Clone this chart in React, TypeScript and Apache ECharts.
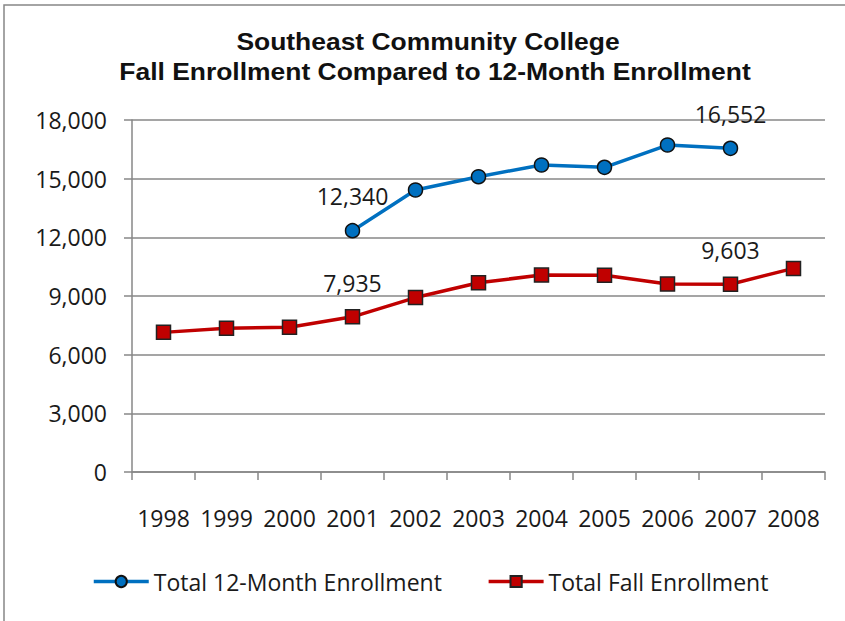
import React, { useEffect, useRef } from "react";
import * as echarts from "echarts";

const years = ["1998", "1999", "2000", "2001", "2002", "2003", "2004", "2005", "2006", "2007", "2008"];
const twelveMonth = [null, null, null, 12340, 14420, 15100, 15700, 15580, 16720, 16552, null];
const fall = [7140, 7350, 7400, 7935, 8920, 9680, 10070, 10060, 9610, 9603, 10410];
const twelveMonthLabelled = ["2001", "2007"];
const fallLabelled = ["2001", "2007"];
const titleLines = ["Southeast Community College", "Fall Enrollment Compared to 12-Month Enrollment"];
const seriesNames = ["Total 12-Month Enrollment", "Total Fall Enrollment"];

const GRAY = "#878787";
const TEXT = "#1a1a1a";
const FONT = "'Open Sans', sans-serif";

const fmt = (v: number) => v.toLocaleString("en-US");

export default function App() {
  const ref = useRef<HTMLDivElement>(null);
  useEffect(() => {
    document.body.style.margin = "0";
    const chart = echarts.init(ref.current!, null, { renderer: "svg" });
    const mkData = (vals: (number | null)[], labelled: string[]) =>
      vals.map((v, i) =>
        labelled.includes(years[i]) && v != null
          ? { value: v, label: { show: true } }
          : v
      );
    const labelCfg = {
      show: false,
      position: "top",
      distance: 15,
      fontFamily: FONT,
      fontSize: 23,
      color: TEXT,
      formatter: (p: any) => fmt(p.value),
    };
    const titleFont = "bold 23px 'Liberation Sans', Arial, sans-serif";
    chart.setOption({
      animation: false,
      backgroundColor: "#ffffff",
      graphic: [
        {
          type: "polyline",
          shape: { points: [[4, 621], [4, 5], [845, 5]] },
          style: { stroke: GRAY, lineWidth: 1.5, fill: "none" },
          silent: true,
        },
        {
          type: "text",
          x: 428,
          y: 42,
          scaleX: 1.15,
          style: {
            text: titleLines[0],
            font: titleFont,
            fill: "#111",
            textAlign: "center",
            textVerticalAlign: "middle",
            align: "center",
            verticalAlign: "middle",
          },
        },
        {
          type: "text",
          x: 435,
          y: 72,
          scaleX: 1.15,
          style: {
            text: titleLines[1],
            font: titleFont,
            fill: "#111",
            textAlign: "center",
            textVerticalAlign: "middle",
            align: "center",
            verticalAlign: "middle",
          },
        },
      ],
      legend: {
        left: 92,
        top: 570,
        padding: 0,
        itemWidth: 55,
        itemHeight: 14,
        itemGap: 45,
        lineStyle: { width: 3.5 },
        textStyle: { fontFamily: FONT, fontSize: 23, color: TEXT },
        data: seriesNames,
      },
      grid: { left: 132, right: 20, top: 120, bottom: 149, containLabel: false },
      xAxis: {
        type: "category",
        data: years,
        boundaryGap: true,
        axisLine: { show: true, lineStyle: { color: GRAY, width: 1.5 } },
        axisTick: { show: true, length: 8, lineStyle: { color: GRAY, width: 1.5 } },
        axisLabel: { margin: 34, fontFamily: FONT, fontSize: 23, color: TEXT, interval: 0 },
        splitLine: { show: false },
      },
      yAxis: {
        type: "value",
        min: 0,
        max: 18000,
        interval: 3000,
        axisLine: { show: true, lineStyle: { color: GRAY, width: 1.5 } },
        axisTick: { show: true, length: 8, lineStyle: { color: GRAY, width: 1.5 } },
        axisLabel: { margin: 25, fontFamily: FONT, fontSize: 23, color: TEXT, formatter: (v: number) => fmt(v) },
        splitLine: { show: true, lineStyle: { color: GRAY, width: 1.5 } },
      },
      series: [
        {
          name: seriesNames[0],
          type: "line",
          data: mkData(twelveMonth, twelveMonthLabelled),
          connectNulls: false,
          symbol: "circle",
          symbolSize: 14,
          showAllSymbol: true,
          lineStyle: { color: "#0070C0", width: 3.5 },
          itemStyle: { color: "#0070C0", borderColor: "#111", borderWidth: 1.5 },
          label: labelCfg,
          emphasis: { disabled: true },
        },
        {
          name: seriesNames[1],
          type: "line",
          data: mkData(fall, fallLabelled),
          symbol: "rect",
          symbolSize: 14,
          showAllSymbol: true,
          lineStyle: { color: "#C00000", width: 3.5 },
          itemStyle: { color: "#C00000", borderColor: "#222", borderWidth: 1.5 },
          label: labelCfg,
          emphasis: { disabled: true },
        },
      ],
    });
    return () => chart.dispose();
  }, []);
  return <div ref={ref} style={{ width: 845, height: 621 }} />;
}
